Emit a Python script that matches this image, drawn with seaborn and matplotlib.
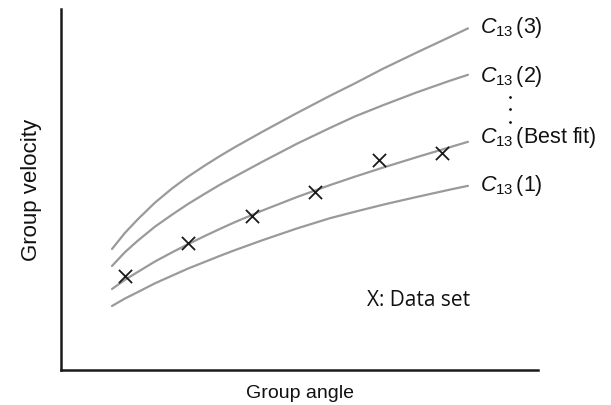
import numpy as np
import pandas as pd
import matplotlib
matplotlib.use("Agg")
import matplotlib.pyplot as plt
import seaborn as sns

sns.set_theme(style="white")
plt.rcParams["font.family"] = ["Liberation Sans", "DejaVu Sans"]
plt.rcParams["mathtext.fontset"] = "custom"
plt.rcParams["mathtext.it"] = "Liberation Sans:italic"
plt.rcParams["mathtext.rm"] = "Liberation Sans"

# Group angle sample points shared by all model curves
angle = [10.69, 13.42, 16.14, 19.71, 23.27, 26.62, 30.19, 33.33, 36.48,
         42.35, 49.48, 56.39, 61.64, 67.51, 74.63, 81.55, 85.32]

# Model group velocity for each C13 value
vel_c3 = [33.52, 38.01, 41.80, 46.37, 50.28, 53.55, 56.68, 59.28, 61.75,
          66.09, 71.19, 75.96, 79.42, 83.46, 87.98, 92.27, 94.63]
vel_c2 = [28.81, 32.66, 35.87, 39.72, 43.02, 45.98, 48.86, 51.33, 53.60,
          57.78, 62.69, 67.06, 70.25, 73.35, 76.93, 80.14, 81.77]
vel_best = [22.44, 24.99, 27.20, 30.06, 32.58, 34.85, 37.15, 39.09, 40.97,
            44.24, 47.92, 51.22, 53.57, 56.07, 58.98, 61.72, 63.21]
vel_c1 = [17.73, 19.81, 21.61, 24.02, 26.12, 28.09, 29.97, 31.63, 33.21,
          36.01, 39.22, 42.05, 43.85, 45.79, 47.95, 49.97, 51.02]

# Measured data set
data_angle = [13.4, 26.6, 40.0, 53.2, 66.7, 79.9]
data_vel = [26.0, 35.2, 42.7, 49.3, 58.2, 60.1]

curve_names = ["C3", "C2", "Best", "C1"]
curve_labels = [r"$C_{13}\,$(3)", r"$C_{13}\,$(2)", r"$C_{13}\,$(Best fit)", r"$C_{13}\,$(1)"]
curve_label_y = [95.0, 81.2, 64.4, 51.0]
curve_values = [vel_c3, vel_c2, vel_best, vel_c1]

# Vertical ellipsis between the (2) and best-fit labels
ellipsis_x = [94.1, 94.1, 94.1]
ellipsis_y = [75.6, 72.3, 68.7]

curves = pd.DataFrame({
    "angle": angle * len(curve_names),
    "velocity": sum(curve_values, []),
    "curve": np.repeat(curve_names, len(angle)),
})
points = pd.DataFrame({"angle": data_angle, "velocity": data_vel})

fig = plt.figure(figsize=(6.11, 4.05), dpi=100)
ax = fig.add_axes([61 / 611, 35 / 405, 477 / 611, 361 / 405])

sns.lineplot(data=curves, x="angle", y="velocity", units="curve", estimator=None,
             color="#9a9a9a", linewidth=1.6, ax=ax, legend=False)
sns.scatterplot(data=points, x="angle", y="velocity", marker="x", s=90,
                color="#1a1a1a", linewidth=1.3, ax=ax, legend=False, zorder=3)
ax.scatter(ellipsis_x, ellipsis_y, s=4, color="#111111", clip_on=False,
           linewidths=0)

ax.set_xlim(0, 100)
ax.set_ylim(0, 100)
ax.set_xticks([])
ax.set_yticks([])
for side in ["top", "right"]:
    ax.spines[side].set_visible(False)
for side in ["left", "bottom"]:
    ax.spines[side].set_color("#1a1a1a")
    ax.spines[side].set_linewidth(1.8)

# Curve labels to the right of each line end
for label, ly in zip(curve_labels, curve_label_y):
    ax.text(87.8, ly, label, fontsize=15.5, va="center", ha="left",
            color="#111111", clip_on=False)

ax.text(64.2, 19.2, "X: Data set", fontsize=15, family=["Open Sans"],
        va="center", ha="left", color="#111111")

ax.set_xlabel("Group angle", fontsize=14, labelpad=11, color="#111111")
ax.set_ylabel("Group velocity", fontsize=16, labelpad=14, color="#111111")

fig.savefig("out.png", dpi=100)
